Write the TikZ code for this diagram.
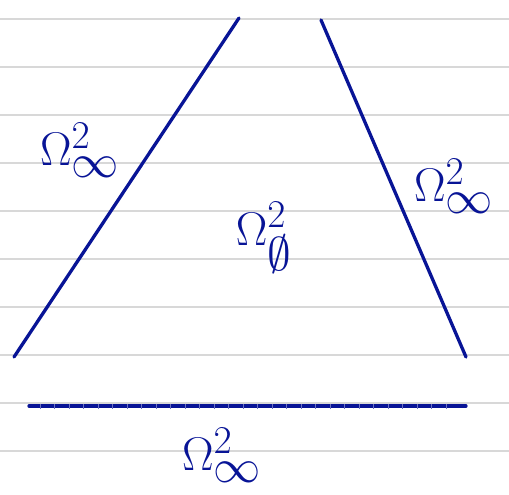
\documentclass[tikz,border=0pt]{standalone}
\usepackage{graphicx}
\usepackage{amsmath}
\definecolor{ink}{RGB}{8,20,150}
\definecolor{rule}{RGB}{216,216,216}
\newcommand{\biglbl}[1]{\scalebox{1.9}{\Huge #1}}
\begin{document}
\begin{tikzpicture}[x=1pt,y=-1pt,
  ruleline/.style={draw=rule,line width=1.5pt},
  stroke/.style={draw=ink,line width=3.3pt,line cap=round},
  lbl/.style={text=ink,inner sep=0pt}]
\useasboundingbox (0,0) rectangle (509,495);
\foreach \y in {19,67,115,163,211,259,307,355,403,451}
  \draw[ruleline] (0,\y) -- (509,\y);
% triangle sides
\coordinate (lt) at (239,18);
\coordinate (lb) at (14,357);
\coordinate (rt) at (321,20);
\coordinate (rb) at (466,357);
\coordinate (bl) at (29,406);
\coordinate (br) at (466,406);
\draw[stroke] (lb) -- (lt);
\draw[stroke] (rt) -- (rb);
\draw[stroke] (bl) -- (br);
\foreach \x in {40,54.5,...,460}
  \draw[draw=ink!60,line width=0.5pt] (\x,403.5) -- (\x,408.5);
% labels
\node[lbl] (left) at (80,150) {\biglbl{$\Omega^{\scriptstyle 2}_{\textstyle\infty}$}};
\node[lbl] (right) at (454,186) {\biglbl{$\Omega^{\scriptstyle 2}_{\textstyle\infty}$}};
\node[lbl] (bottom) at (222,455) {\biglbl{$\Omega^{\scriptstyle 2}_{\textstyle\infty}$}};
\node[lbl] (center) at (264,238) {\biglbl{$\Omega^{\scriptstyle 2}_{\textstyle\emptyset}$}};
\end{tikzpicture}
\end{document}
